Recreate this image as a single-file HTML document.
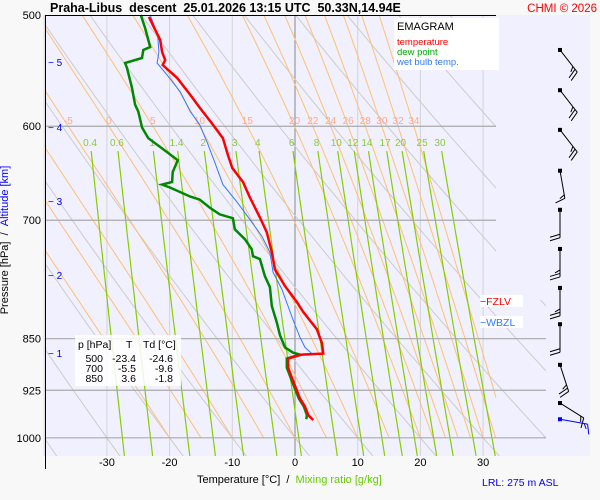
<!DOCTYPE html>
<html><head><meta charset="utf-8"><style>
html,body{margin:0;padding:0;background:#f8f8f8;}
svg{display:block;font-family:"Liberation Sans",sans-serif;}
</style></head><body>
<svg id="chart" width="600" height="500" viewBox="0 0 600 500">
<defs>
<clipPath id="clipUpper"><polygon points="46,15 496,15 496,300 546,300 546,456 46,456"/></clipPath>
<clipPath id="clipPlot"><rect x="46" y="15" width="450" height="441"/></clipPath>
</defs>
<rect x="46" y="15" width="544" height="441" fill="#f0f0ff"/>
<g id="isotherms"></g>
<g id="dryad" clip-path="url(#clipUpper)"></g>
<g id="moistad" clip-path="url(#clipPlot)"></g>
<g id="mixr" clip-path="url(#clipPlot)"></g>
<g id="isobars"></g>
<g id="labels"></g>
<g id="profiles"></g>
<g id="winds"></g>
<g id="axes"></g>

<line x1="45.5" y1="15" x2="45.5" y2="469" stroke="#000" stroke-width="1"/>
<line x1="46" y1="15.5" x2="496" y2="15.5" stroke="#000" stroke-width="1"/>

<text x="50" y="12" font-size="12.5" font-weight="bold" fill="#000">Praha-Libus &#160;descent &#160;25.01.2026 13:15 UTC &#160;50.33N,14.94E</text>
<text x="597" y="12" font-size="11.5" fill="#ff0000" text-anchor="end">CHMI © 2026</text>

<g>
<rect x="394" y="18" width="105" height="52" fill="#ffffff"/>
<text x="397" y="30" font-size="11" fill="#000">EMAGRAM</text>
<text x="397" y="45" font-size="9.5" fill="#ff0000">temperature</text>
<text x="397" y="55" font-size="9.5" fill="#00aa00">dew point</text>
<text x="397" y="65" font-size="9.5" fill="#3377ff">wet bulb temp.</text>
</g>

<g>
<rect x="75" y="335" width="106" height="51" fill="#ffffff" opacity="0.85"/>
<text x="78" y="348" font-size="10.5" fill="#000">p [hPa]</text>
<text x="126" y="348" font-size="10.5" fill="#000">T</text>
<text x="143" y="348" font-size="10.5" fill="#000">Td [°C]</text>
<g font-size="10.5" fill="#000" text-anchor="end">
<text x="103" y="362">500</text><text x="136" y="362">-23.4</text><text x="173" y="362">-24.6</text>
<text x="103" y="372">700</text><text x="136" y="372">-5.5</text><text x="173" y="372">-9.6</text>
<text x="103" y="382">850</text><text x="136" y="382">3.6</text><text x="173" y="382">-1.8</text>
</g>
</g>

<g>
<rect x="480" y="295" width="43" height="12" fill="#ffffff"/>
<text x="480" y="305" font-size="10.5" fill="#ff0000">−FZLV</text>
<rect x="480" y="316" width="43" height="12" fill="#ffffff"/>
<text x="480" y="326" font-size="10.5" fill="#3377ff">−WBZL</text>
</g>

<text x="8" y="240" font-size="11" fill="#000" text-anchor="middle" transform="rotate(-90 8 240)">Pressure [hPa] &#160;/ &#160;<tspan fill="#0000ff">Altitude [km]</tspan></text>
<text x="197" y="483" font-size="11" fill="#000">Temperature [°C] &#160;/ &#160;<tspan fill="#66cc00">Mixing ratio [g/kg]</tspan></text>
<text x="482" y="486" font-size="10.5" fill="#0000ff">LRL: 275 m ASL</text>
</svg>
<script>
// ---- data ----
const tempP = [501.6,520.9,531.2,538.3,542.7,554.3,570,582,598.4,611.9,629,642.5,657.5,674.4,696.7,714,737.6,758.6,779.8,800.5,813.5,837,856.6,871.1,872.5,878,891.2,910.9,937.4,950,963.3,971.2];
const tempT = [-23.3,-21.5,-21.2,-20.7,-21.1,-18.8,-16.7,-15.2,-13.1,-11.5,-10.7,-10.0,-8.3,-7.2,-5.6,-4.5,-3.7,-3.2,-1.6,0.3,1.3,3.5,4.3,4.5,1.1,-1.1,-1.1,-0.3,0.8,1.6,2.1,2.9];
const dewP = [500,510.8,526.9,529.5,536.5,540.9,545.5,563.5,579.2,585.8,601.2,611.9,626,634.5,646.8,657.5,660.3,663.5,673.4,676.7,685.6,693.3,697.7,710.5,722,734,742.5,746,767.3,781.1,805.6,827.8,845.3,862.2,869.7,872.5,878,891.2,910.9,937.4,950,963.3,970];
const dewT = [-24.6,-23.9,-23.1,-24.2,-24.4,-27.1,-26.8,-26.0,-25.5,-25.0,-24.4,-23.4,-20.4,-18.7,-19.5,-19.6,-21.2,-19.9,-16.7,-15.2,-13.6,-12.0,-9.9,-9.6,-8.0,-6.9,-6.7,-5.6,-4.8,-4.0,-3.7,-2.9,-2.4,-1.6,-0.3,0.8,-1.3,-1.3,-0.5,0.6,1.4,1.9,1.8];
const wetP = [500,516.7,531.2,540.9,551.7,567.2,585.8,598.4,616.1,636.4,660.3,679,699,718.6,737.6,762.3,783.7,824.4,848.2,862.2,871.1];
const wetT = [-23.1,-21.9,-21.7,-22.0,-20.4,-18.3,-16.7,-15.2,-14.0,-12.8,-11.5,-9.3,-7.2,-5.3,-4.0,-3.5,-2.1,-0.3,0.8,1.6,2.7];
const tempTicks = [-30,-20,-10,0,10,20,30];
const isoTicks = [-40,-30,-20,-10,0,10,20,30];
const presTicks = [500,600,700,850,925,1000];
const altKm = [5,4,3,2,1];
const altP = [540,601,678,766,870];
const dryTheta = [-60,-50,-40,-30,-20,-10,0,10,20,30,40,50,60,70,80,90,100,110,120,130,140,150];
const thetaW = [-20,-15,-10,-5,0,5,10,15,20,22,24,26,28,30,32,34];
const thetaWLabels = [-5,0,5,10,15,20,22,24,26,28,30,32,34];
const mixW = [0.4,0.6,1,1.4,2,3,4,6,8,10,12,14,17,20,25,30];
const windP = [529.5,565.6,603.6,645.4,688.1,733.7,782.1,830.1,887.2,944.6,970];
const windDir = [142,142,142,170,180,180,180,180,162,122,100];
const windSpd = [25,25,25,15,20,25,25,20,25,15,15];

// ---- axes ----
const X = t => 295 + 6.27 * t;
const Y = p => 15 + 610 * Math.log(p / 500);
const NS = 'http://www.w3.org/2000/svg';
function mk(tag, parent, attrs) { const e = document.createElementNS(NS, tag); for (const k in attrs) e.setAttribute(k, attrs[k]); parent.appendChild(e); return e; }
function pathD(ps, ts) { return ps.map((p, i) => (i ? 'L' : 'M') + X(ts[i]).toFixed(1) + ',' + Y(p).toFixed(1)).join(''); }
const g = id => document.getElementById(id);
const es = tc => 6.112 * Math.exp(17.67 * tc / (tc + 243.5));

isoTicks.forEach(t => {
  const l = mk('line', g('isotherms'), {x1: X(t), x2: X(t), y1: 15, y2: 456, stroke: t === 0 ? '#888' : '#d4d4d4', 'stroke-width': 1});
  
  
});
dryTheta.forEach(th => {
  const ps = [], ts = [];
  for (let p = 480; p <= 1040; p += 10) { ps.push(p); ts.push((th + 273.15) * Math.pow(p / 1000, 0.286) - 273.15); }
  const e = mk('path', g('dryad'), {d: pathD(ps, ts), fill: 'none', stroke: '#cccccc', 'stroke-width': 1});
  
  
});
function moist(tw) {
  const Rd = 287, cp = 1004, Lv = 2.5e6, eps = 0.622;
  const ps = [], ts = [];
  let T = tw + 273.15;
  for (let p = 1000; p >= 480; p -= 2) {
    ps.push(p); ts.push(T - 273.15);
    const e = es(T - 273.15), rs = eps * e / (p - e);
    const dTdp = (Rd * T + Lv * rs) / (p * (cp + Lv * Lv * rs * eps / (Rd * T * T)));
    T -= 2 * dTdp;
  }
  return [ps, ts];
}
thetaW.forEach(tw => {
  const [ps, ts] = moist(tw);
  const e = mk('path', g('moistad'), {d: pathD(ps, ts), fill: 'none', stroke: '#ffc070', 'stroke-width': 1});
  
  
});
thetaWLabels.forEach(tw => {
  const [ps, ts] = moist(tw);
  let T600 = ts[ps.indexOf(600)];
  const t = mk('text', g('labels'), {x: X(T600), y: 124, 'font-size': 10, fill: '#ffaa88', 'text-anchor': 'middle'});
  t.textContent = tw;
  
  
});
function tdFromW(w, p) { const e = w * p / (622 + w); const l = Math.log(e / 6.112); return 243.5 * l / (17.67 - l); }
mixW.forEach(w => {
  const ps = [], ts = [];
  for (let p = 625; p <= 1030; p += 15) { ps.push(p); ts.push(tdFromW(w, p)); }
  const e = mk('path', g('mixr'), {d: pathD(ps, ts), fill: 'none', stroke: '#88cc00', 'stroke-width': 1.2});
  
  
  const t = mk('text', g('labels'), {x: X(tdFromW(w, 615)), y: 146, 'font-size': 10, fill: '#88cc33', 'text-anchor': 'middle'});
  t.textContent = w;
  
  
});
presTicks.forEach(p => {
  if (p !== 500) {
    const l = mk('line', g('isobars'), {x1: 46, x2: p >= 850 ? 546 : 496, y1: Y(p), y2: Y(p), stroke: '#aaaaaa', 'stroke-width': 1.2});
    
    
  }
  const t = mk('text', g('axes'), {x: 41, y: Y(p) + 4, 'font-size': 11, fill: '#000', 'text-anchor': 'end'});
  t.textContent = p;
  
  
});
tempTicks.forEach(tc => {
  const t = mk('text', g('axes'), {x: X(tc), y: 466, 'font-size': 11, fill: '#000', 'text-anchor': 'middle'});
  t.textContent = tc;
  
  
});
altKm.forEach((k, i) => {
  const t = mk('text', g('axes'), {x: 48, y: Y(altP[i]) + 4, 'font-size': 10, fill: '#0000ff'});
  t.textContent = '− ' + k;
  
  
});
const wb = mk('path', g('profiles'), {d: pathD(wetP, wetT), fill: 'none', stroke: '#3377ff', 'stroke-width': 1});


const dp = mk('path', g('profiles'), {d: pathD(dewP, dewT), fill: 'none', stroke: '#008800', 'stroke-width': 2.5});


const tp = mk('path', g('profiles'), {d: pathD(tempP, tempT), fill: 'none', stroke: '#ff0000', 'stroke-width': 2.5});


windP.forEach((p, i) => {
  const last = i === windP.length - 1;
  const col = last ? '#0000ff' : '#000';
  const y0 = Y(p), x0 = 560;
  const a = windDir[i] * Math.PI / 180;
  const dx = Math.sin(a), dy = -Math.cos(a);
  const L = 28;
  const x1 = x0 + dx * L, y1 = y0 + dy * L;
  const grp = mk('g', g('winds'), {stroke: col, 'stroke-width': 1, fill: 'none'});
  
  
  mk('rect', grp, {x: x0 - 2, y: y0 - 2, width: 4, height: 4, fill: col, stroke: 'none'});
  mk('line', grp, {x1: x0, y1: y0, x2: x1, y2: y1});
  let s = windSpd[i], k = 0;
  const px = -dy, py = dx;
  while (s >= 5) {
    const len = s >= 10 ? 10 : 5;
    const bx = x1 - dx * k * 3.5, by = y1 - dy * k * 3.5;
    mk('line', grp, {x1: bx, y1: by, x2: bx + px * len + dx * 3, y2: by + py * len + dy * 3});
    s -= s >= 10 ? 10 : 5; k++;
  }
});
</script>
</body></html>
